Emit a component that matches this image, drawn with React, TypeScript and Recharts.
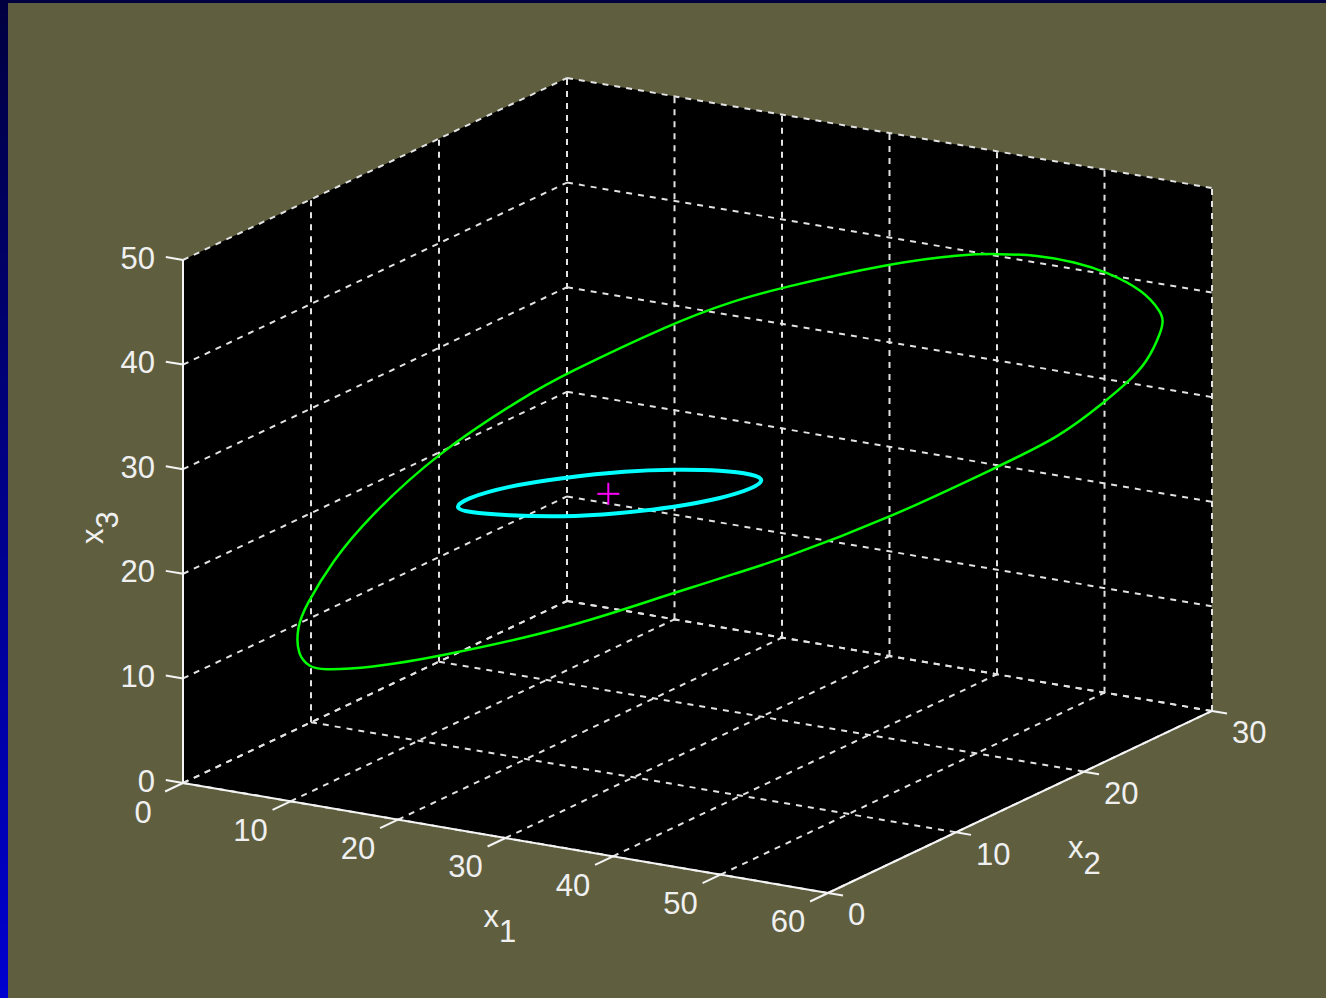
import React from 'react';
import { ComposedChart, XAxis, YAxis, Area, Line, Scatter } from 'recharts';

type P3 = [number, number, number];

// axis ticks
const x1Ticks = [0, 10, 20, 30, 40, 50, 60];
const x2Ticks = [0, 10, 20, 30];
const x3Ticks = [0, 10, 20, 30, 40, 50];

// outer contour (green), taken in the plane x2 = x1 / 2
const greenContour: P3[] = [
  [28.57, 14.29, 40.7],
  [31.9, 15.95, 42.33],
  [34.81, 17.41, 43.33],
  [41.22, 20.61, 44.98],
  [45.71, 22.86, 45.33],
  [47.46, 23.73, 45.13],
  [49.8, 24.9, 44.76],
  [52.01, 26.01, 43.84],
  [53.88, 26.94, 42.67],
  [55.98, 27.99, 40.71],
  [57.08, 28.54, 38.38],
  [57.14, 28.57, 37.61],
  [57.08, 28.54, 36.76],
  [56.21, 28.11, 33.7],
  [55.04, 27.52, 31.93],
  [53.88, 26.94, 30.44],
  [51.14, 25.57, 27.21],
  [47.46, 23.73, 24.76],
  [41.22, 20.61, 20.61],
  [34.81, 17.41, 17.33],
  [31.9, 15.95, 16.23],
  [30.15, 15.08, 15.47],
  [28.57, 14.29, 14.89],
  [22.16, 11.08, 12.09],
  [14.81, 7.41, 10.35],
  [10.9, 5.45, 9.74],
  [7.99, 4.0, 9.89],
  [7.4, 3.7, 10.24],
  [6.65, 3.33, 11.47],
  [6.65, 3.33, 14.15],
  [7.11, 3.56, 16.01],
  [8.75, 4.38, 20.32],
  [10.79, 5.4, 24.1],
  [14.81, 7.41, 29.85],
  [20.06, 10.03, 34.79],
  [22.16, 11.08, 36.46],
];

// inner contour (cyan), same plane
const cyanContour: P3[] = [
  [25.89, 12.95, 26.86],
  [28.57, 14.29, 26.7],
  [31.49, 15.75, 26.3],
  [33.24, 16.62, 25.7],
  [33.95, 16.98, 25.1],
  [33.24, 16.62, 24.35],
  [31.49, 15.75, 23.63],
  [28.57, 14.29, 23.05],
  [25.31, 12.66, 22.85],
  [22.16, 11.08, 22.89],
  [18.89, 9.45, 23.4],
  [16.56, 8.28, 23.98],
  [15.8, 7.9, 24.5],
  [16.44, 8.22, 25.3],
  [18.89, 9.45, 26.2],
  [22.16, 11.08, 26.65],
];

const meanPoint: P3[] = [[24.8, 12.4, 24.8]];

// orthographic view of the axes box
const project = ([a, b, c]: P3) => ({
  u: 10.75 * a + 12.8 * b,
  v: -1.833 * a + 6.067 * b + 10.46 * c,
});

const W = 1326;
const H = 998;
const X1 = x1Ticks[x1Ticks.length - 1];
const X2 = x2Ticks[x2Ticks.length - 1];
const X3 = x3Ticks[x3Ticks.length - 1];

const TEXT = '#f0f0f0';
const FONT = '"Liberation Sans", Arial, sans-serif';

// black background of the box: hexagon between the bottom and top outlines
const vAt = (pts: { u: number; v: number }[], u: number) => {
  for (let i = 0; i < pts.length - 1; i++) {
    const a = pts[i];
    const b = pts[i + 1];
    if (u >= a.u - 1e-6 && u <= b.u + 1e-6) return a.v + ((b.v - a.v) * (u - a.u)) / (b.u - a.u);
  }
  return pts[pts.length - 1].v;
};
const topEdge = ([[0, 0, X3], [0, X2, X3], [X1, X2, X3]] as P3[]).map(project);
const bottomEdge = ([[0, 0, 0], [X1, 0, 0], [X1, X2, 0]] as P3[]).map(project);
const boxFill = Array.from(new Set([...topEdge, ...bottomEdge].map((p) => p.u)))
  .sort((a, b) => a - b)
  .map((u) => ({ u, range: [vAt(bottomEdge, u), vAt(topEdge, u)] }));

// dashed grid on the floor and the two back walls
const gridSegs: P3[][] = [];
x1Ticks.forEach((t) => {
  gridSegs.push([[t, 0, 0], [t, X2, 0]]);
  gridSegs.push([[t, X2, 0], [t, X2, X3]]);
});
x2Ticks.forEach((t) => {
  gridSegs.push([[0, t, 0], [X1, t, 0]]);
  gridSegs.push([[0, t, 0], [0, t, X3]]);
});
x3Ticks.forEach((t) => {
  gridSegs.push([[0, 0, t], [0, X2, t]]);
  gridSegs.push([[0, X2, t], [X1, X2, t]]);
});

const axisSegs: P3[][] = [
  [[0, 0, 0], [0, 0, X3]],
  [[0, 0, 0], [X1, 0, 0]],
  [[X1, 0, 0], [X1, X2, 0]],
];

const tickSegs: P3[][] = [
  ...x3Ticks.map((t) => [[0, 0, t], [-1.6, 0, t]] as P3[]),
  ...x1Ticks.map((t) => [[t, 0, 0], [t, -1.4, 0]] as P3[]),
  ...x2Ticks.map((t) => [[X1, t, 0], [X1 + 1.4, t, 0]] as P3[]),
];

const x3Labels = x3Ticks.map((t) => ({ ...project([0, 0, t]), text: String(t) }));
const x1Labels = x1Ticks.map((t) => ({ ...project([t, 0, 0]), text: String(t) }));
const x2Labels = x2Ticks.map((t) => ({ ...project([X1, t, 0]), text: String(t) }));

const tickText = (anchor: 'start' | 'middle' | 'end', dx: number, dy: number) => (props: any) => {
  const { cx, cy, payload } = props;
  return (
    <text
      x={cx + dx}
      y={cy + dy}
      textAnchor={anchor}
      dominantBaseline="central"
      fill={TEXT}
      fontSize={31}
      fontFamily={FONT}
    >
      {payload.text}
    </text>
  );
};

const axisTitle = (sub: string, dx: number, dy: number, subDy: number, rotate = false) => (props: any) => {
  const { cx, cy } = props;
  const x = cx + dx;
  const y = cy + dy;
  return (
    <text
      x={x}
      y={y}
      fill={TEXT}
      fontSize={31}
      fontFamily={FONT}
      textAnchor={rotate ? 'middle' : 'start'}
      transform={rotate ? `rotate(-90, ${x}, ${y})` : undefined}
    >
      x<tspan dy={subDy}>{sub}</tspan>
    </text>
  );
};

const plusShape = (props: any) => {
  const { cx, cy } = props;
  return (
    <g stroke="#ff00ff" strokeWidth={2}>
      <line x1={cx - 11} y1={cy} x2={cx + 11} y2={cy} />
      <line x1={cx} y1={cy - 11} x2={cx} y2={cy + 11} />
    </g>
  );
};

export default function App() {
  return (
    <div
      style={{
        position: 'absolute',
        left: 0,
        top: 0,
        width: W,
        height: H,
        background: 'linear-gradient(#000040, #0000d0)',
      }}
    >
      <div style={{ position: 'absolute', left: 8, top: 3, right: 0, bottom: 0, background: '#5f5f40' }} />
      <div style={{ position: 'absolute', left: 0, top: 0 }}>
        <ComposedChart width={W} height={H} data={boxFill} margin={{ top: 0, right: 0, bottom: 0, left: 0 }}>
          <XAxis type="number" dataKey="u" domain={[-183, W - 183]} allowDataOverflow hide />
          <YAxis type="number" dataKey="v" domain={[783 - H, 783]} allowDataOverflow hide />
          <Area dataKey="range" type="linear" stroke="none" fill="#000000" fillOpacity={1} isAnimationActive={false} />
          {gridSegs.map((s, i) => (
            <Line
              key={`g${i}`}
              data={s.map(project)}
              dataKey="v"
              type="linear"
              stroke="#e2e2e2"
              strokeWidth={2}
              strokeDasharray="6 6"
              dot={false}
              activeDot={false}
              isAnimationActive={false}
            />
          ))}
          {[...axisSegs, ...tickSegs].map((s, i) => (
            <Line
              key={`a${i}`}
              data={s.map(project)}
              dataKey="v"
              type="linear"
              stroke="#f4f4f4"
              strokeWidth={2}
              dot={false}
              activeDot={false}
              isAnimationActive={false}
            />
          ))}
          <Line
            data={greenContour.map(project)}
            dataKey="v"
            type="basisClosed"
            stroke="#00ff00"
            strokeWidth={2.5}
            dot={false}
            activeDot={false}
            isAnimationActive={false}
          />
          <Line
            data={cyanContour.map(project)}
            dataKey="v"
            type="basisClosed"
            stroke="#00ffff"
            strokeWidth={4}
            dot={false}
            activeDot={false}
            isAnimationActive={false}
          />
          <Scatter data={meanPoint.map(project)} shape={plusShape} isAnimationActive={false} />
          <Scatter data={x3Labels} shape={tickText('end', -28, -2)} isAnimationActive={false} />
          <Scatter data={x1Labels} shape={tickText('middle', -40, 29)} isAnimationActive={false} />
          <Scatter data={x2Labels} shape={tickText('start', 20, 22)} isAnimationActive={false} />
          <Scatter data={[project([X1 / 2, 0, 0])]} shape={axisTitle('1', -22, 89, 15)} isAnimationActive={false} />
          <Scatter data={[project([X1, X2 / 2, 0])]} shape={axisTitle('2', 48, 56, 16)} isAnimationActive={false} />
          <Scatter data={[project([0, 0, X3 / 2])]} shape={axisTitle('3', -80, 6, 15, true)} isAnimationActive={false} />
        </ComposedChart>
      </div>
    </div>
  );
}
